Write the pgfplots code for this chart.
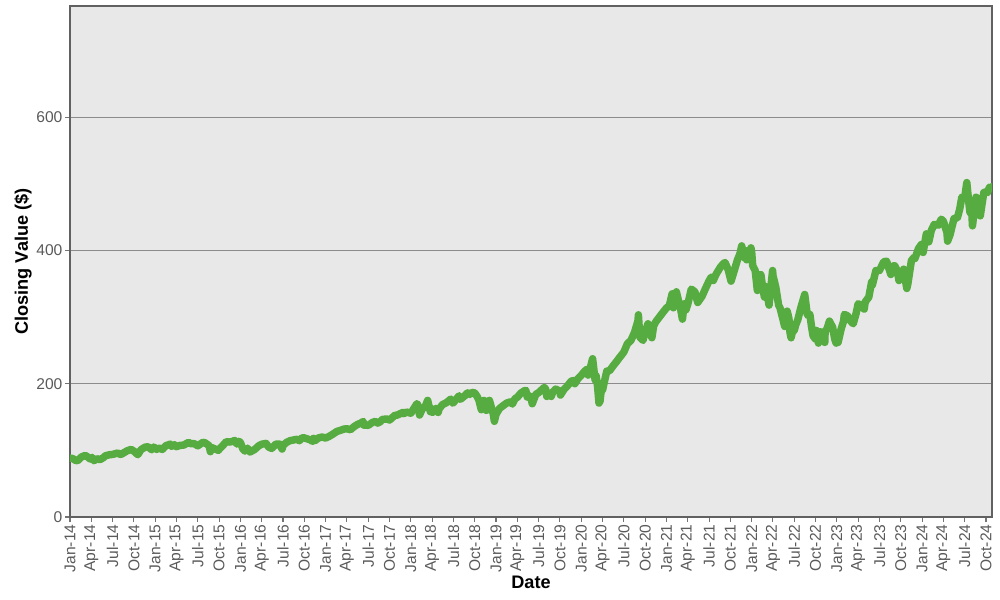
\documentclass[border=0pt]{standalone}
\usepackage{pgfplots}
\pgfplotsset{compat=1.18}
\usepackage{fontspec}
\setmainfont{Liberation Sans}
\definecolor{bgc}{RGB}{232,232,232}
\definecolor{linec}{RGB}{86,172,64}
\definecolor{gridc}{RGB}{140,140,140}
\definecolor{tickc}{RGB}{90,90,90}
\begin{document}
\begin{tikzpicture}
\useasboundingbox (-52.5pt,-62.25pt) rectangle (697.5pt,387.75pt);
\begin{axis}[
  at={(0,0)}, anchor=south west,
  scale only axis,
  width=691.5pt, height=383.25pt,
  xmin=0, xmax=129.85, ymin=0, ymax=767,
  axis background/.style={fill=bgc},
  axis line style={draw=black!62, line width=0.9pt},
  ytick={0,200,400,600},
  ymajorgrids, grid style={gridc, line width=0.8pt},
  xtick={0,3,...,129},
  xticklabels={Jan-14,Apr-14,Jul-14,Oct-14,Jan-15,Apr-15,Jul-15,Oct-15,Jan-16,Apr-16,Jul-16,Oct-16,Jan-17,Apr-17,Jul-17,Oct-17,Jan-18,Apr-18,Jul-18,Oct-18,Jan-19,Apr-19,Jul-19,Oct-19,Jan-20,Apr-20,Jul-20,Oct-20,Jan-21,Apr-21,Jul-21,Oct-21,Jan-22,Apr-22,Jul-22,Oct-22,Jan-23,Apr-23,Jul-23,Oct-23,Jan-24,Apr-24,Jul-24,Oct-24},
  x tick label style={rotate=90, anchor=east, font=\fontsize{11.7pt}{13pt}\selectfont, text=tickc, inner sep=2pt},
  y tick label style={font=\fontsize{11.7pt}{13pt}\selectfont, text=tickc, inner sep=2pt},
  /pgf/number format/assume math mode=true,
  tick align=outside, major tick length=3.5pt,
  tick style={draw=black!55, line width=0.8pt},
  xtick pos=bottom, ytick pos=left,
  xlabel={Date}, ylabel={Closing Value (\$)},
  label style={font=\fontsize{13.6pt}{15pt}\selectfont\bfseries},
  xlabel style={at={(axis description cs:0.5,-0.127)}, anchor=center},
  ylabel style={at={(axis description cs:-0.051,0.5)}, anchor=center},
  clip=true,
]
\addplot[linec, line width=5.6pt, line join=round, line cap=round] coordinates {
(0.0,88) (0.15,88.5) (0.5,87) (0.77,85) (1.07,84.5) (1.6,90) (2.15,92.5) (2.5,90) (2.85,87)
(3.1,89.5) (3.37,84.5) (3.8,87.5) (4.2,86) (4.7,89) (5.0,91.9) (5.6,93.5) (6.0,93.9)
(6.7,96) (7.0,94.3) (7.2,94) (8.0,99.1) (8.6,101.5) (9.0,98.8) (9.55,93.5) (10.0,101.1)
(10.6,105) (11.0,105.3) (11.5,101) (11.8,105) (12.0,103.3)
(12.2,101.5) (12.5,103.5) (13.0,101.4) (13.5,107) (14.0,108.9) (14.1,109.5) (14.3,106)
(14.7,108.5) (15.0,105.6) (15.5,107.5) (16.0,107.9) (16.7,112) (17.0,110) (17.5,110)
(18.0,106.9) (18.7,112) (19.0,111.5) (19.6,107) (19.77,98) (19.9,104) (20.0,104)
(20.9,100) (21.0,101.8) (21.5,107) (22.0,113) (22.5,112.5) (23.0,113.8) (23.2,115)
(23.5,109.5) (23.8,113.5) (24.0,111.9)
(24.35,102) (24.63,99) (25.0,103.3) (25.35,97.5) (26.0,101.3) (26.6,107) (27.0,109.2)
(27.6,110.5) (28.0,104.7) (28.4,103) (29.0,109.4) (29.5,109.5) (29.87,102) (30.0,107.5)
(30.5,112) (31.0,114.6) (32.0,116.7) (32.3,114.5) (32.7,119) (33.0,118.7) (33.9,115.5)
(34.13,113.5) (34.3,118) (34.5,114.5) (35.0,118.7) (35.5,120) (36.0,118.5)
(36.5,121) (37.0,124.2) (37.6,128.5) (38.0,129.8) (38.6,132) (39.0,132.4) (39.5,131)
(40.0,135.6) (40.5,139) (41.0,141.2) (41.3,143.5) (41.35,138) (42.0,137.6) (42.6,142)
(43.0,143.5) (43.35,141) (43.7,143) (44.0,146.6) (44.7,147) (45.0,145.5) (45.8,153)
(46.0,152.6) (46.9,157) (47.0,155) (47.4,157.5) (48.0,155.8)
(48.5,164) (48.85,170) (49.0,168.3) (49.23,153) (49.6,162) (50.0,165.2) (50.37,175)
(50.75,158) (51.0,162.3) (51.05,157) (51.5,163) (51.85,157) (52.0,162.7) (52.5,169)
(53.0,171.5) (53.63,177) (53.9,171) (54.0,171.7) (54.8,182) (55.0,176.7) (55.6,182)
(56.0,186.3) (56.3,184) (56.6,187) (57.0,186.3) (57.33,181) (57.6,175) (57.93,161)
(58.0,170.8) (58.3,175) (58.63,160) (59.07,175) (59.6,155) (59.77,143.6) (60.0,154.3)
(60.5,163) (61.0,167.1) (61.5,171) (62.0,172.8) (62.3,169.5) (62.7,178) (63.0,179.7)
(63.5,186) (64.0,189.5) (64.2,190) (64.4,180) (64.6,183) (65.0,175) (65.1,170)
(65.6,184) (66.0,186.7) (66.8,194.5) (67.0,191.6) (67.15,181) (67.5,185) (67.77,181)
(68.0,187.5) (68.4,192) (69.0,188.8) (69.07,183) (69.6,192) (70.0,196.1) (70.6,204)
(71.0,204.9) (71.1,200) (71.5,207) (72.0,212.6)
(72.5,219) (72.85,222) (72.97,213) (73.3,225) (73.6,237.6) (73.95,205.6) (74.1,212)
(74.3,196) (74.5,171) (74.65,174) (74.8,189) (75.0,190.4) (75.3,205) (75.6,219)
(76.0,219.6) (76.5,227) (77.0,233.6) (77.3,238) (77.6,242) (78.0,247.6) (78.5,260)
(79.0,265.1) (79.5,277) (80.0,294.9) (80.05,303.5) (80.25,270) (80.7,265) (81.0,277.8)
(81.4,290) (81.95,269) (82.2,287) (82.5,293) (83.0,300) (83.5,307) (84.0,313.7)
(84.4,317) (84.8,335) (84.97,314) (85.4,338) (85.8,320) (85.97,313.6) (86.25,297)
(86.5,320) (86.75,311) (87.0,319.1) (87.5,342) (88.0,338.1) (88.4,322) (89.0,331)
(89.5,343) (90.0,354.4) (90.3,360) (90.6,355) (91.0,364.6) (91.6,375) (92.0,380)
(92.25,382) (92.7,371) (93.1,354) (93.5,368) (94.0,386) (94.35,395) (94.6,407)
(94.85,392) (95.0,389) (95.1,400) (95.3,386) (95.6,392) (95.9,404) (96.0,398)
(96.15,377) (96.5,370) (96.8,340) (97.0,363) (97.3,364) (97.6,341) (97.8,330)
(98.0,346) (98.45,318) (98.95,370) (99.0,362.5) (99.4,345) (99.8,318) (100.0,313.7)
(100.4,297) (100.65,286) (101.0,309) (101.25,298) (101.4,277) (101.55,269) (101.9,285)
(102.0,280) (102.2,288) (102.5,296) (102.95,315) (103.47,334) (103.85,303) (104.0,304)
(104.2,304) (104.43,286) (104.65,272) (104.95,267.3) (105.13,280) (105.4,261)
(105.7,278) (105.9,271) (106.0,276) (106.3,262) (106.35,279) (106.6,282) (106.95,294)
(107.4,285) (107.7,267) (107.9,261) (108.0,266)
(108.17,262) (108.6,282) (108.95,294) (109.05,304) (109.5,302) (109.95,294) (110.3,290)
(110.7,305) (111.0,320) (111.4,318) (111.85,312) (112.0,323) (112.5,330) (112.9,353)
(113.0,348) (113.5,370) (114.0,370) (114.6,383) (115.0,384) (115.6,364) (115.95,377)
(116.15,377) (116.5,370) (116.75,355) (117.0,358) (117.4,372) (117.85,343) (118.0,350)
(118.5,385) (118.9,390) (119.0,388) (119.5,403) (119.9,409) (120.0,409.5)
(120.15,397) (120.6,425) (120.95,413) (121.3,430) (121.7,439) (122.0,439) (122.3,438)
(122.7,447) (123.0,444) (123.5,427) (123.6,414) (123.95,424) (124.5,448) (124.95,449)
(125.0,450) (125.3,462) (125.6,480) (126.0,479) (126.3,502) (126.55,475) (126.75,457)
(126.95,469) (127.1,437) (127.4,465) (127.6,480) (128.0,476) (128.2,452) (128.45,470)
(128.7,487) (129.0,488) (129.2,487) (129.5,495) (129.7,494) (129.85,496)
};
\end{axis}
\end{tikzpicture}
\end{document}
